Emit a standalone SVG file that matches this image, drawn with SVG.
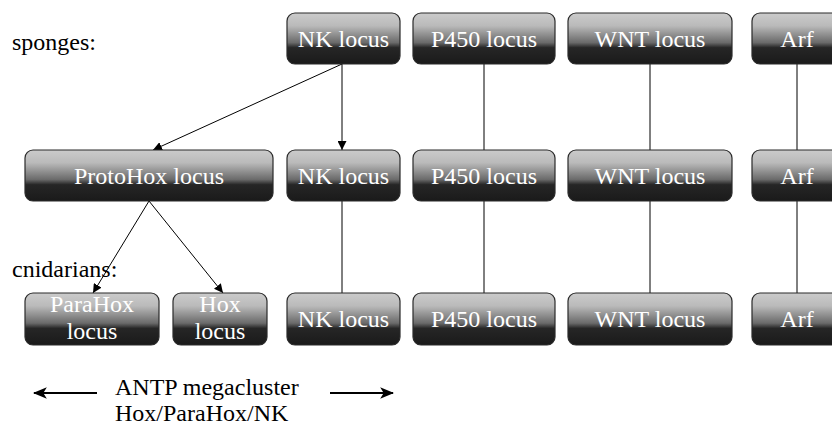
<svg xmlns="http://www.w3.org/2000/svg" width="832" height="426" viewBox="0 0 832 426">
<defs>
<linearGradient id="g" x1="0" y1="0" x2="0" y2="1">
<stop offset="0" stop-color="#cbcbcb"/>
<stop offset="0.25" stop-color="#bababa"/>
<stop offset="0.58" stop-color="#6a6a6a"/>
<stop offset="0.68" stop-color="#262626"/>
<stop offset="1" stop-color="#1a1a1a"/>
</linearGradient>
<marker id="ah" viewBox="0 0 10 10" refX="10" refY="5" markerWidth="9" markerHeight="9" markerUnits="userSpaceOnUse" orient="auto">
<path d="M0,0 L10,5 L0,10 z" fill="#000"/>
</marker>
<marker id="bh" viewBox="0 0 12 10" refX="11" refY="5" markerWidth="14" markerHeight="12" markerUnits="userSpaceOnUse" orient="auto">
<path d="M0,0 L12,5 L0,10 L3,5 z" fill="#000"/>
</marker>
</defs>
<style>
.box{fill:url(#g);stroke:#2a2a2a;stroke-width:1.2}
.bt{font-size:24px;fill:#fff;text-anchor:middle}
.lb{font-size:24px;fill:#000}
.c{stroke:#000;stroke-width:1;fill:none}
.ar{stroke:#000;stroke-width:2;fill:none}
</style>
<g font-family="'Liberation Serif', 'DejaVu Serif', serif">
<text class="lb" x="12" y="50">sponges:</text>
<text class="lb" x="12" y="277">cnidarians:</text>
<g id="connectors">
<line class="c" x1="342" y1="64" x2="153" y2="150" marker-end="url(#ah)"/>
<line class="c" x1="342" y1="64" x2="342" y2="150" marker-end="url(#ah)"/>
<line class="c" x1="149" y1="201" x2="93" y2="293" marker-end="url(#ah)"/>
<line class="c" x1="149" y1="201" x2="223" y2="293" marker-end="url(#ah)"/>
<line class="c" x1="342" y1="201" x2="342" y2="293"/>
<line class="c" x1="484" y1="64" x2="484" y2="150"/>
<line class="c" x1="484" y1="201" x2="484" y2="293"/>
<line class="c" x1="650" y1="64" x2="650" y2="150"/>
<line class="c" x1="650" y1="201" x2="650" y2="293"/>
<line class="c" x1="797" y1="64" x2="797" y2="150"/>
<line class="c" x1="797" y1="201" x2="797" y2="293"/>
<line class="ar" x1="97" y1="393" x2="34" y2="393" marker-end="url(#bh)"/>
<line class="ar" x1="330" y1="393" x2="393" y2="393" marker-end="url(#bh)"/>
</g>
<g id="nk1"><rect class="box" x="287" y="13" width="113" height="51" rx="8"/><text class="bt" x="343.5" y="47">NK locus</text></g>
<g id="p4501"><rect class="box" x="413" y="13" width="142" height="51" rx="8"/><text class="bt" x="484" y="47">P450 locus</text></g>
<g id="wnt1"><rect class="box" x="568" y="13" width="164" height="51" rx="8"/><text class="bt" x="650" y="47">WNT locus</text></g>
<g id="arf1"><rect class="box" x="752" y="13" width="92" height="51" rx="8"/><text class="bt" x="797" y="47">Arf</text></g>
<g id="protohox"><rect class="box" x="25" y="150" width="248" height="51" rx="8"/><text class="bt" x="149" y="184">ProtoHox locus</text></g>
<g id="nk2"><rect class="box" x="287" y="150" width="113" height="51" rx="8"/><text class="bt" x="343.5" y="184">NK locus</text></g>
<g id="p4502"><rect class="box" x="413" y="150" width="142" height="51" rx="8"/><text class="bt" x="484" y="184">P450 locus</text></g>
<g id="wnt2"><rect class="box" x="568" y="150" width="164" height="51" rx="8"/><text class="bt" x="650" y="184">WNT locus</text></g>
<g id="arf2"><rect class="box" x="752" y="150" width="92" height="51" rx="8"/><text class="bt" x="797" y="184">Arf</text></g>
<g id="parahox"><rect class="box" x="25" y="293" width="134" height="52" rx="8"/><text class="bt" x="92" y="312">ParaHox</text><text class="bt" x="92" y="339">locus</text></g>
<g id="hox"><rect class="box" x="173" y="293" width="94" height="52" rx="8"/><text class="bt" x="220" y="312">Hox</text><text class="bt" x="220" y="339">locus</text></g>
<g id="nk3"><rect class="box" x="287" y="293" width="113" height="52" rx="8"/><text class="bt" x="343.5" y="327">NK locus</text></g>
<g id="p4503"><rect class="box" x="413" y="293" width="142" height="52" rx="8"/><text class="bt" x="484" y="327">P450 locus</text></g>
<g id="wnt3"><rect class="box" x="568" y="293" width="164" height="52" rx="8"/><text class="bt" x="650" y="327">WNT locus</text></g>
<g id="arf3"><rect class="box" x="752" y="293" width="92" height="52" rx="8"/><text class="bt" x="797" y="327">Arf</text></g>
<g id="antp"><text class="lb" x="115" y="395">ANTP megacluster</text><text class="lb" x="115" y="421">Hox/ParaHox/NK</text></g>
</g>
</svg>
